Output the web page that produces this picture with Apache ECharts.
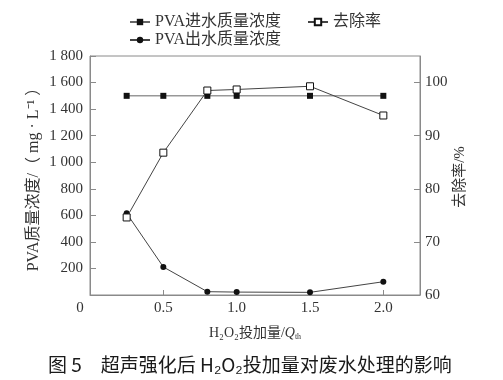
<!DOCTYPE html>
<html>
<head>
<meta charset="utf-8">
<script src="https://cdn.jsdelivr.net/npm/echarts@6/dist/echarts.min.js"></script>
<style>html,body{margin:0;padding:0;background:#fff;}#c{width:503px;height:380px;}</style>
</head>
<body>
<div id="c"></div>
<script>
const doses = [0.25, 0.5, 0.8, 1.0, 1.5, 2.0];
const inflow = [1500, 1500, 1500, 1500, 1500, 1500];
const outflow = [615, 211, 25, 22, 20, 100];
const removal = [74.6, 86.8, 98.5, 98.7, 99.3, 93.8];
const seriesNames = ['PVA进水质量浓度', 'PVA出水质量浓度', '去除率'];
const xTicks = [0, 0.5, 1.0, 1.5, 2.0];
const titleText = '图 5\u3000超声强化后 H\u2082O\u2082投加量对废水处理的影响';
const rightAxisName = '去除率/%';

const FONT = "'Liberation Serif', 'Noto Sans CJK SC', serif";
const TXT = '#333';
const AX = '#8a8a8a';

function pairs(ys) { return doses.map((x, i) => [x, ys[i]]); }

const chart = echarts.init(document.getElementById('c'), null, {renderer: 'canvas'});
const legendBase = {
  itemWidth: 20, itemHeight: 8, itemGap: 20,
  textStyle: {fontFamily: FONT, fontSize: 16, color: TXT, padding: [0,0,0,0]},
  selectedMode: false
};
chart.setOption({
  animation: false,
  backgroundColor: '#fff',
  textStyle: {fontFamily: FONT},
  title: {
    text: titleText, left: 43, top: 350,
    textStyle: {fontFamily: "'Noto Sans CJK SC', sans-serif", fontSize: 19, fontWeight: 'normal', color: '#1a1a1a'}
  },
  legend: [
    Object.assign({}, legendBase, {data: [seriesNames[0]], left: 124, top: 9}),
    Object.assign({}, legendBase, {data: [seriesNames[2]], left: 302, top: 9}),
    Object.assign({}, legendBase, {data: [seriesNames[1]], left: 124, top: 27})
  ],
  graphic: [{
    type: 'text', x: 460, y: 177, rotation: Math.PI / 2,
    style: {text: rightAxisName, fill: TXT, font: "15px 'Liberation Serif', 'Noto Sans CJK SC', serif", align: 'center', verticalAlign: 'middle'}
  }],
  grid: {left: 90, right: 83, top: 56, bottom: 85, show: true, borderColor: AX, borderWidth: 1, containLabel: false},
  xAxis: {
    type: 'value', min: 0, max: 2.25, interval: 0.5,
    name: '{n|H\u2082O\u2082投加量/}{q|Q}{s|th}',
    nameLocation: 'middle', nameGap: 30, nameMoveOverlap: false,
    nameTextStyle: {
      rich: {
        n: {fontFamily: FONT, fontSize: 14, color: TXT},
        q: {fontFamily: FONT, fontSize: 14, fontStyle: 'italic', color: TXT},
        s: {fontFamily: FONT, fontSize: 8, color: TXT, padding: [8, 0, 0, 0]}
      }
    },
    axisLine: {onZero: false, lineStyle: {color: AX}},
    axisTick: {inside: true, length: 5, lineStyle: {color: AX}},
    splitLine: {show: false},
    axisLabel: {
      showMaxLabel: false, margin: 6, fontSize: 15, color: TXT, fontFamily: FONT,
      formatter: v => v === 0 ? '{o|0}' : (xTicks.indexOf(v) >= 0 ? v.toFixed(1) : ''),
      rich: {o: {fontFamily: FONT, fontSize: 15, color: TXT, padding: [0, 20, 0, 0]}}
    }
  },
  yAxis: [
    {
      type: 'value', min: 0, max: 1800, interval: 200,
      name: 'PVA质量浓度/（ mg · L\u207B\u00B9 ）',
      nameLocation: 'middle', nameGap: 48, nameRotate: 90, nameMoveOverlap: false,
      nameTextStyle: {fontFamily: FONT, fontSize: 16, color: TXT},
      axisLine: {show: true, lineStyle: {color: AX}},
      axisTick: {show: true, inside: true, length: 6, lineStyle: {color: AX}},
      splitLine: {show: false},
      axisLabel: {
        margin: 7, fontSize: 15, color: TXT, fontFamily: FONT,
        formatter: v => v === 0 ? '' : (v >= 1000 ? Math.floor(v / 1000) + ' ' + String(v % 1000).padStart(3, '0') : String(v))
      }
    },
    {
      type: 'value', min: 60, max: 105, interval: 10, position: 'right',
      axisLine: {show: true, lineStyle: {color: AX}},
      axisTick: {show: true, inside: true, length: 6, lineStyle: {color: AX}},
      splitLine: {show: false},
      axisLabel: {showMaxLabel: false, margin: 5, fontSize: 15, color: TXT, fontFamily: FONT}
    }
  ],
  series: [
    {
      name: seriesNames[0], type: 'line', data: pairs(inflow),
      symbol: 'rect', symbolSize: 6, showAllSymbol: true,
      itemStyle: {color: '#111'}, lineStyle: {color: '#666', width: 1}, z: 2
    },
    {
      name: seriesNames[1], type: 'line', data: pairs(outflow),
      symbol: 'circle', symbolSize: 6, showAllSymbol: true,
      itemStyle: {color: '#111'}, lineStyle: {color: '#444', width: 1}, z: 3
    },
    {
      name: seriesNames[2], type: 'line', yAxisIndex: 1, data: pairs(removal),
      symbol: 'rect', symbolSize: 7, showAllSymbol: true,
      itemStyle: {color: '#fff', borderColor: '#111', borderWidth: 1},
      lineStyle: {color: '#444', width: 1}, z: 4
    }
  ]
});
</script>
</body>
</html>
